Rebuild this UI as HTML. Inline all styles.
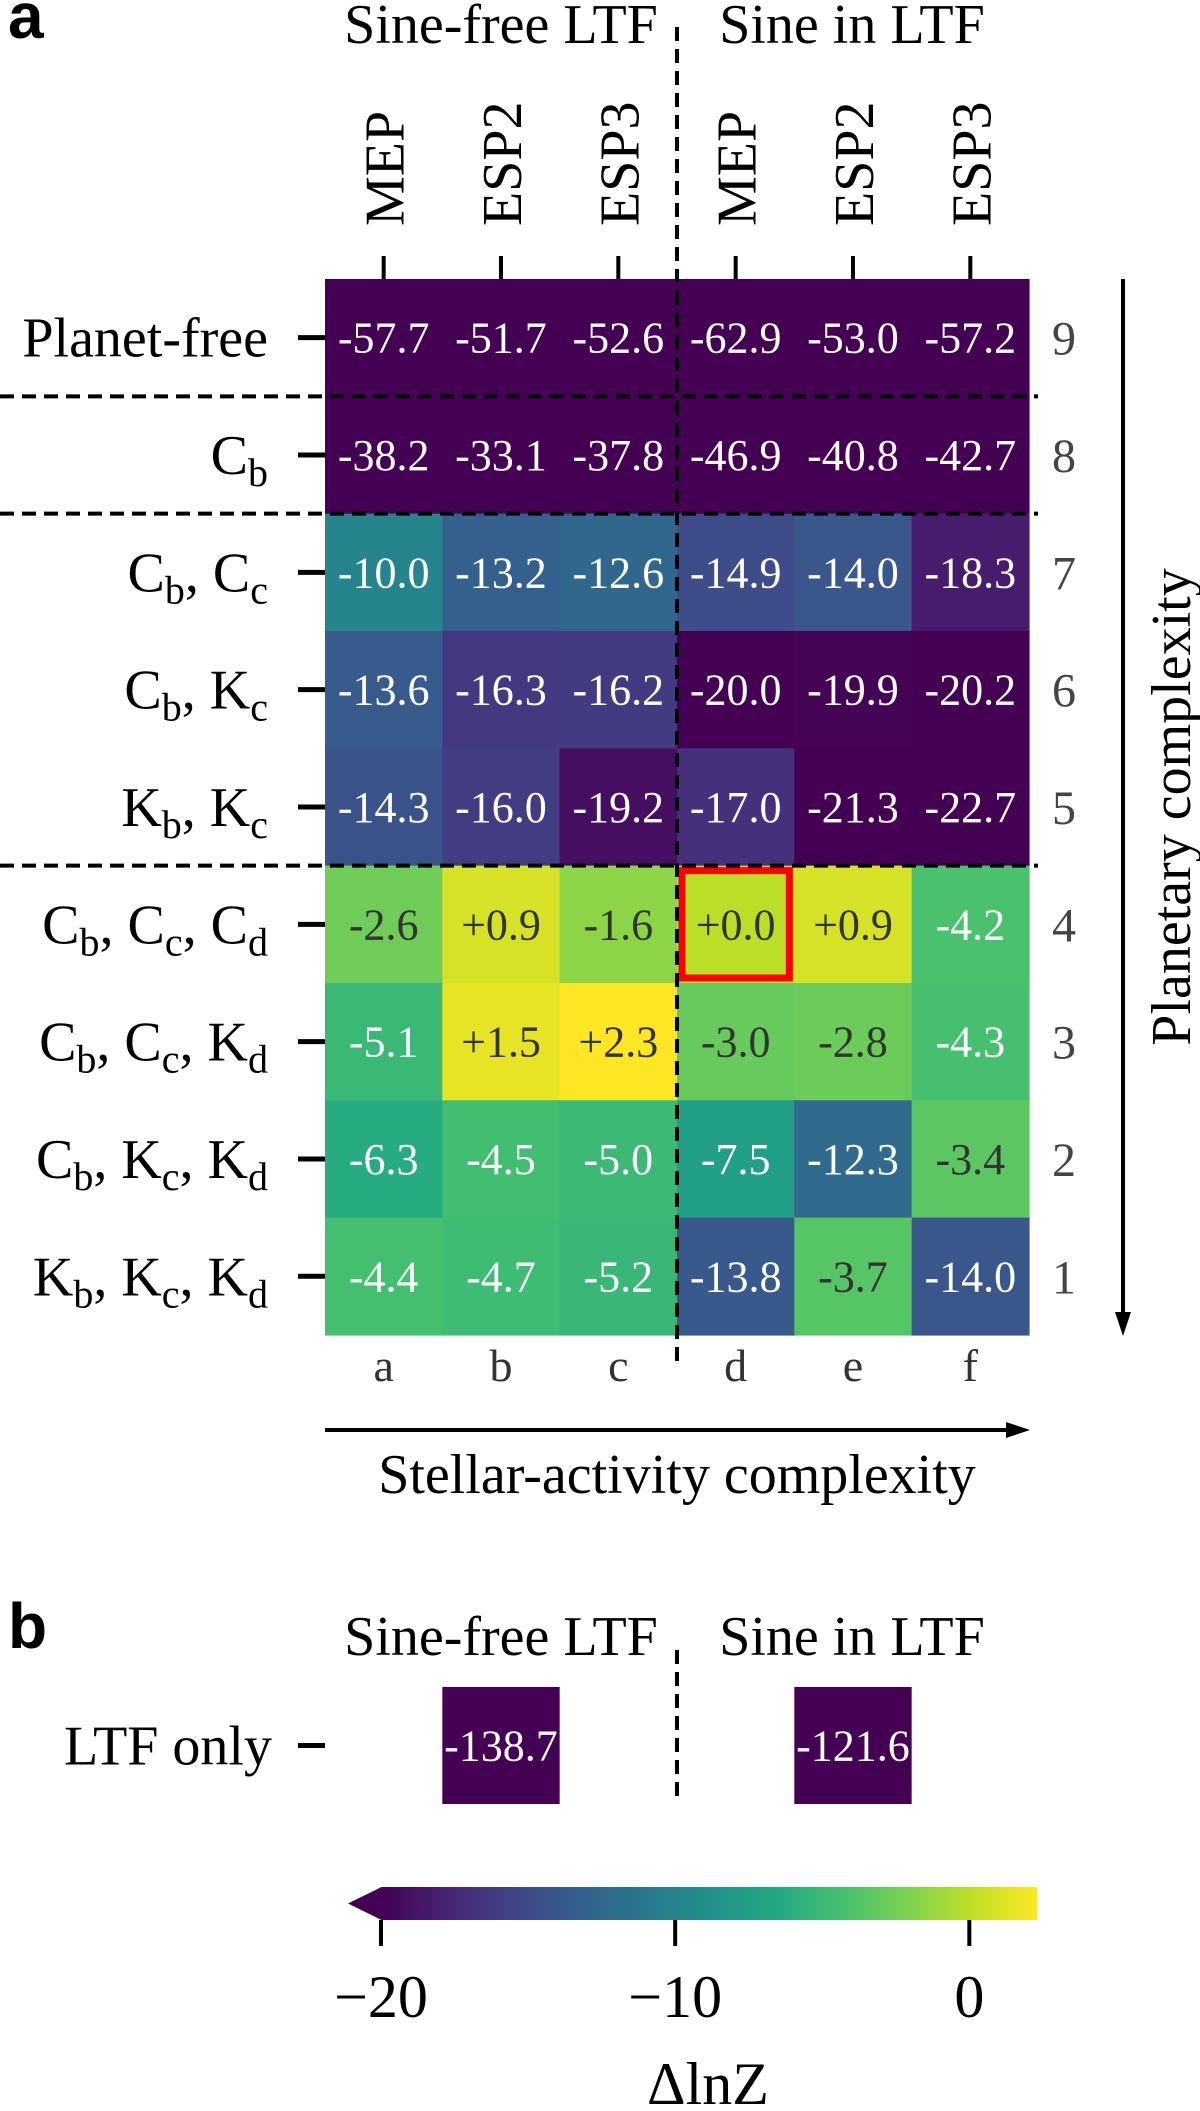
<!DOCTYPE html>
<html><head><meta charset="utf-8"><style>
html,body{margin:0;padding:0;background:#fff;}
svg{display:block;}
svg text{font-family:"Liberation Serif","Times New Roman",serif;}
</style></head>
<body>
<svg id="fig" width="1200" height="2111" viewBox="0 0 1200 2111" xmlns="http://www.w3.org/2000/svg" font-family="Liberation Serif, serif">
<g id="panelA"></g>
<g id="panelB"></g>
<g id="cbar"></g>
</svg>
<script>
// ---- data ----
const colLabels = ["MEP","ESP2","ESP3","MEP","ESP2","ESP3"];
const colLetters = ["a","b","c","d","e","f"];
const rowNumbers = ["9","8","7","6","5","4","3","2","1"];
const rowLabels = [
 [["Planet-free",""]],
 [["C","b"]],
 [["C","b"],["C","c"]],
 [["C","b"],["K","c"]],
 [["K","b"],["K","c"]],
 [["C","b"],["C","c"],["C","d"]],
 [["C","b"],["C","c"],["K","d"]],
 [["C","b"],["K","c"],["K","d"]],
 [["K","b"],["K","c"],["K","d"]]
];
const row9 = [-57.7,-51.7,-52.6,-62.9,-53.0,-57.2];
const row8 = [-38.2,-33.1,-37.8,-46.9,-40.8,-42.7];
const row7 = [-10.0,-13.2,-12.6,-14.9,-14.0,-18.3];
const row6 = [-13.6,-16.3,-16.2,-20.0,-19.9,-20.2];
const row5 = [-14.3,-16.0,-19.2,-17.0,-21.3,-22.7];
const row4 = [-2.6,0.9,-1.6,0.0,0.9,-4.2];
const row3 = [-5.1,1.5,2.3,-3.0,-2.8,-4.3];
const row2 = [-6.3,-4.5,-5.0,-7.5,-12.3,-3.4];
const row1 = [-4.4,-4.7,-5.2,-13.8,-3.7,-14.0];
const ltfOnlyValues = [-138.7,-121.6];
const ltfOnlyCols = [1,4];
const cbarTicks = [-20,-10,0];
const vmin = -20, vmax = 2.3;
const highlightRow = 5, highlightCol = 3;

// ---- layout ----
const NS="http://www.w3.org/2000/svg";
const SERIF="'Liberation Serif', serif";
const X0=325, Y0=279, CW=117.33, RH=117.33;
const xc = i => X0 + CW*(i+0.5);
const yc = j => Y0 + RH*(j+0.5);
const CB0=381, CB1=1037;
const cbx = v => CB0 + (v-vmin)/(vmax-vmin)*(CB1-CB0);
const vir=["#440154","#482475","#414487","#355f8d","#2a788e","#21918c","#22a884","#44bf70","#7ad151","#bddf26","#fde725"];
function hex(h){return [1,3,5].map(i=>parseInt(h.substr(i,2),16));}
function cmap(v){let t=(v-vmin)/(vmax-vmin);t=Math.max(0,Math.min(1,t));const p=t*10,i=Math.min(9,Math.floor(p)),f=p-i;const a=hex(vir[i]),b=hex(vir[i+1]);return "rgb("+a.map((c,k)=>Math.round(c+(b[k]-c)*f)).join(",")+")";}
function fmt(v){return (v>=0?"+":"-")+Math.abs(v).toFixed(1);}
function el(tag,attrs,parent,txt){const e=document.createElementNS(NS,tag);if(tag==="text")e.setAttribute("style","font-family:"+SERIF);for(const k in attrs)e.setAttribute(k,attrs[k]);if(txt!==undefined)e.textContent=txt;parent.appendChild(e);return e;}

const A=document.getElementById("panelA");
const rows=[row9,row8,row7,row6,row5,row4,row3,row2,row1];

let t=el("text",{x:8,y:38,"font-size":64,"font-weight":"bold",style:"font-family:'Liberation Sans',sans-serif"},A,"a");



rows.forEach((r,j)=>{r.forEach((v,i)=>{
 const c=el("rect",{x:X0+CW*i,y:Y0+RH*j,width:CW+0.6,height:RH+0.6,fill:cmap(v)},A);
 
 
});});
rows.forEach((r,j)=>{r.forEach((v,i)=>{
 const light=(v-vmin)/(vmax-vmin)>0.72;
 const tx=el("text",{x:xc(i),y:yc(j)+15,"font-size":44,"text-anchor":"middle",fill:light?"#333":"#fff"},A,fmt(v));
 
 
});});

const hr=el("rect",{x:X0+CW*highlightCol+5,y:Y0+RH*highlightRow+5,width:CW-10,height:RH-10,fill:"none",stroke:"#ff0000","stroke-width":7},A);



[1,2,5].forEach(j=>{const l=el("line",{x1:0,x2:1038,y1:Y0+RH*j,y2:Y0+RH*j,stroke:"#000","stroke-width":4,"stroke-dasharray":"14,8"},A);
 
 });
let vl=el("line",{x1:677,x2:677,y1:27,y2:1362,stroke:"#000","stroke-width":4,"stroke-dasharray":"14,8"},A);



let h1=el("text",{x:501,y:43,"font-size":56,"text-anchor":"middle"},A,"Sine-free LTF");


let h2=el("text",{x:852,y:43,"font-size":56,"text-anchor":"middle"},A,"Sine in LTF");



colLabels.forEach((s,i)=>{
 const tk=el("line",{x1:xc(i),x2:xc(i),y1:256,y2:279,stroke:"#000","stroke-width":4},A);
 
 
 const tl=el("text",{x:0,y:0,"font-size":56,transform:`translate(${xc(i)+20},226) rotate(-90)`},A,s);
 
 
 const lt=el("text",{x:xc(i),y:1381,"font-size":46,"text-anchor":"middle",fill:"#333"},A,colLetters[i]);
 
 
});

rowLabels.forEach((parts,j)=>{
 const tk=el("line",{x1:298,x2:325,y1:yc(j),y2:yc(j),stroke:"#000","stroke-width":5},A);
 
 
 const tx=el("text",{x:268,y:yc(j)+19,"font-size":56,"text-anchor":"end"},A);
 
 
 parts.forEach((p,k)=>{
  if(k>0) el("tspan",{},tx,", ");
  el("tspan",{},tx,p[0]);
  if(p[1]){el("tspan",{"font-size":40,dy:12},tx,p[1]);el("tspan",{dy:-12},tx,"\u200b");}
 });
 const rn=el("text",{x:1064,y:yc(j)+17,"font-size":48,"text-anchor":"middle",fill:"#444"},A,rowNumbers[j]);
 
 
});

let va=el("line",{x1:1123,x2:1123,y1:279,y2:1315,stroke:"#000","stroke-width":4},A);


let vah=el("polygon",{points:"1115,1312 1131,1312 1123,1336"},A);


let pt=el("text",{x:0,y:0,"font-size":56,"text-anchor":"middle",transform:"translate(1190,807) rotate(-90)"},A,"Planetary complexity");


let ha=el("line",{x1:325,x2:1010,y1:1430,y2:1430,stroke:"#000","stroke-width":4},A);


let hah=el("polygon",{points:"1006,1422 1006,1438 1030,1430"},A);


let st=el("text",{x:677,y:1493,"font-size":56,"text-anchor":"middle"},A,"Stellar-activity complexity");



// ---- panel b ----
const B=document.getElementById("panelB");
let bl=el("text",{x:8,y:1648,"font-size":64,"font-weight":"bold",style:"font-family:'Liberation Sans',sans-serif"},B,"b");


let b1=el("text",{x:501,y:1655,"font-size":56,"text-anchor":"middle"},B,"Sine-free LTF");


let b2=el("text",{x:852,y:1655,"font-size":56,"text-anchor":"middle"},B,"Sine in LTF");


const BY0=1687, BH=117;
ltfOnlyValues.forEach((v,k)=>{
 const i=ltfOnlyCols[k];
 const r=el("rect",{x:X0+CW*i,y:BY0,width:CW,height:BH,fill:cmap(v)},B);
 
 
 const tx=el("text",{x:xc(i),y:BY0+BH/2+15,"font-size":44,"text-anchor":"middle",fill:"#fff"},B,fmt(v));
 
 
});
let bd=el("line",{x1:677,x2:677,y1:1650,y2:1804,stroke:"#000","stroke-width":4,"stroke-dasharray":"14,8"},B);


let btk=el("line",{x1:298,x2:325,y1:BY0+BH/2,y2:BY0+BH/2,stroke:"#000","stroke-width":5},B);


let blb=el("text",{x:272,y:BY0+BH/2+19,"font-size":56,"text-anchor":"end"},B,"LTF only");



// ---- colorbar ----
const C=document.getElementById("cbar");
const defs=el("defs",{},C);
const g=el("linearGradient",{id:"vg",x1:0,x2:1,y1:0,y2:0},defs);
vir.forEach((c,k)=>el("stop",{offset:(k/10),"stop-color":c},g));
let cr=el("rect",{x:CB0,y:1887,width:CB1-CB0,height:33,fill:"url(#vg)"},C);


let ctri=el("polygon",{points:`${CB0+0.5},1887 ${CB0+0.5},1920 348,1903.5`,fill:vir[0]},C);


cbarTicks.forEach(v=>{
 const tk=el("line",{x1:cbx(v),x2:cbx(v),y1:1920,y2:1946,stroke:"#000","stroke-width":4},C);
 
 
 const tl=el("text",{x:cbx(v),y:2017,"font-size":60,"text-anchor":"middle"},C,(v<0?"\u2212":"")+Math.abs(v));
 
 
});
let ct=el("text",{x:708,y:2104,"font-size":60,"text-anchor":"middle"},C,"\u0394lnZ");


</script>
</body></html>
